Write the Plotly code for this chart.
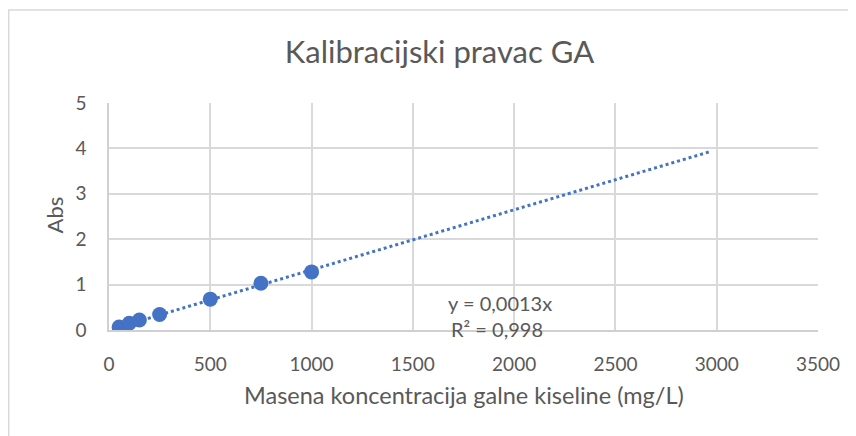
import plotly.graph_objects as go

conc = [50, 100, 150, 250, 500, 750, 1000]
absorb = [0.065, 0.15, 0.22, 0.34, 0.68, 1.03, 1.28]
# least-squares slope through the origin (Excel linear trendline, intercept = 0)
slope = sum(a * b for a, b in zip(conc, absorb)) / sum(a * a for a in conc)
trend_x = [50, 2970]
trend_y = [slope * v for v in trend_x]
x_ticks = [0, 500, 1000, 1500, 2000, 2500, 3000, 3500]
y_ticks = [0, 1, 2, 3, 4, 5]

FONT = "Lato"
GRAY = "#595959"
BLUE = "#4472C4"

fig = go.Figure()
fig.add_trace(go.Scatter(x=trend_x, y=trend_y, mode="lines",
                         line=dict(color=BLUE, width=3, dash="dot"),
                         hoverinfo="skip", showlegend=False))
fig.add_trace(go.Scatter(x=conc, y=absorb, mode="markers",
                         marker=dict(color=BLUE, size=15),
                         showlegend=False))

ann = dict(xref="paper", yref="paper", showarrow=False,
           xanchor="center", yanchor="middle")
fig.add_annotation(x=0.5515, y=0.119, text="y = 0,0013x",
                   font=dict(family=FONT, size=20, color=GRAY), **ann)
fig.add_annotation(x=0.5466, y=0.006, text="R² = 0,998",
                   font=dict(family=FONT, size=20, color=GRAY), **ann)
fig.add_annotation(x=0.5007, y=-0.287, text="Masena koncentracija galne kiseline (mg/L)",
                   font=dict(family=FONT, size=23.5, color=GRAY), **ann)
fig.add_annotation(x=-0.077, y=0.5066, text="Abs", textangle=-90,
                   font=dict(family=FONT, size=22, color=GRAY), **ann)

fig.add_shape(type="rect", xref="paper", yref="paper",
              x0=-0.1415, x1=1.2, y0=-1.5, y1=1.41,
              line=dict(color="#d9d9d9", width=1.5), layer="below")

fig.update_layout(
    width=856, height=436,
    margin=dict(l=101, r=46, t=95, b=114),
    paper_bgcolor="white", plot_bgcolor="white",
    title=dict(text="Kalibracijski pravac GA", x=0.5041, xanchor="center",
               xref="container", y=0.899, yanchor="middle",
               font=dict(family=FONT, size=31, color=GRAY)),
    font=dict(family=FONT, color=GRAY),
    xaxis=dict(range=[0, 3500], tickvals=x_ticks, showgrid=True,
               gridcolor="#d9d9d9", gridwidth=1.5, zeroline=False,
               showline=True, linecolor="#d0d0d0", linewidth=1.5,
               ticks="", automargin=False, ticklabelstandoff=16,
               tickfont=dict(family=FONT, size=19, color=GRAY)),
    yaxis=dict(range=[0, 5], tickvals=y_ticks, showgrid=True,
               gridcolor="#d9d9d9", gridwidth=1.5, zeroline=False,
               showline=True, linecolor="#d0d0d0", linewidth=1.5,
               ticks="", automargin=False, ticklabelstandoff=17,
               tickfont=dict(family=FONT, size=19, color=GRAY)),
)

fig.write_html("out.html")
